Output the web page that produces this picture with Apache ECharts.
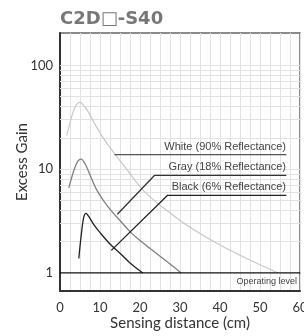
<!DOCTYPE html>
<html>
<head>
<meta charset="utf-8">
<script src="https://cdn.jsdelivr.net/npm/echarts@6/dist/echarts.min.js"></script>
<style>
  html, body { margin: 0; padding: 0; background: #fff; }
  #main { width: 304px; height: 336px; }
</style>
</head>
<body>
<div id="main"></div>
<script>
var myChart = echarts.init(document.getElementById('main'));

// Excess gain curves, [distance cm, gain]
var whiteCurve = [[1.7, 21], [2.7, 30], [3.8, 40], [5, 44], [6, 41], [7, 36], [9, 26], [11, 19.5],
    [13.7, 14], [16, 10.8], [20, 6.8], [22.5, 5.4], [25, 4.5], [30, 3.2], [35, 2.4], [40, 1.86],
    [45, 1.48], [50, 1.2], [54.5, 1.0]];
var grayCurve = [[2.2, 6.6], [3.5, 9.8], [4.5, 12], [5.3, 12.5], [6.3, 11.2], [7.5, 8.8], [9, 6.5],
    [11, 4.9], [13, 3.9], [15, 3.2], [17.5, 2.5], [20, 2.05], [22.5, 1.72], [25, 1.45], [27.5, 1.22], [30.3, 1.0]];
var blackCurve = [[4.7, 1.38], [5.3, 2.3], [5.9, 3.4], [6.5, 3.75], [7.2, 3.5], [8.5, 2.9], [10, 2.45],
    [12.5, 1.9], [15, 1.55], [17.5, 1.25], [20.7, 1.0]];

// leader lines for the legend texts
var whiteLeader = [[13.7, 13.8], [56.5, 13.8]];
var grayLeader = [[14.4, 3.7], [23.6, 8.7], [56.5, 8.7]];
var blackLeader = [[12.9, 1.66], [26.9, 5.6], [56.5, 5.6]];
var operatingLine = [[0, 1], [60, 1]];

var leaderNames = ['White (90% Reflectance)', 'Gray (18% Reflectance)', 'Black (6% Reflectance)'];
var minorGains = [2, 3, 4, 5, 6, 7, 8, 9, 10, 20, 30, 40, 50, 60, 70, 80, 90, 100];
var xTickLabels = [0, 10, 20, 30, 40, 50, 60];
var yTickLabels = [1, 10, 100];

var labelFont = 'Lato';

function leaderSeries(points, name, color) {
    var data = points.map(function (p, i) {
        if (i < points.length - 1) return { value: p };
        return {
            value: p,
            label: {
                show: true,
                position: 'top',
                align: 'right',
                distance: 2,
                formatter: name,
                color: '#444',
                fontSize: 11,
                fontFamily: 'Liberation Sans'
            }
        };
    });
    return {
        type: 'line',
        data: data,
        symbol: 'circle',
        symbolSize: 1,
        showSymbol: true,
        itemStyle: { color: color },
        lineStyle: { color: color, width: 1.3 },
        silent: true,
        z: 3
    };
}

function curveSeries(points, color, width) {
    return {
        type: 'line',
        data: points,
        symbol: 'none',
        smooth: 0.3,
        lineStyle: { color: color, width: width },
        silent: true,
        z: 2
    };
}

option = {
    animation: false,
    title: {
        text: 'C2D\u25A1-S40',
        left: 55,
        top: 5,
        textStyle: { fontSize: 18, fontWeight: 'bold', color: '#777', fontFamily: 'DejaVu Sans' }
    },
    grid: {
        left: 60, right: 4, top: 33, bottom: 45,
        outerBoundsMode: 'none',
        containLabel: false,
        show: true,
        borderColor: '#666',
        borderWidth: 1.5
    },
    xAxis: {
        type: 'value',
        min: 0,
        max: 60,
        interval: 2.5,
        name: 'Sensing distance (cm)',
        nameLocation: 'middle',
        nameGap: 25,
        nameMoveOverlap: false,
        nameTextStyle: { fontSize: 15, color: '#333', fontFamily: labelFont },
        axisLine: { lineStyle: { color: '#333', width: 2 } },
        axisTick: { show: false },
        axisLabel: {
            margin: 10,
            fontSize: 13,
            color: '#333',
            fontFamily: labelFont,
            hideOverlap: false,
            formatter: function (v) {
                return xTickLabels.indexOf(v) >= 0 ? String(v) : '';
            }
        },
        splitLine: { show: true, lineStyle: { color: '#e2e2e2', width: 1 } }
    },
    yAxis: {
        type: 'log',
        logBase: 10,
        min: 0.67,
        max: 205,
        name: 'Excess Gain',
        nameLocation: 'middle',
        nameGap: 30,
        nameMoveOverlap: false,
        nameRotate: 90,
        nameTextStyle: { fontSize: 15, color: '#333', fontFamily: labelFont },
        axisLine: { show: true, lineStyle: { color: '#333', width: 2 } },
        axisTick: { show: false },
        axisLabel: {
            margin: 7,
            fontSize: 13,
            color: '#333',
            fontFamily: labelFont,
            formatter: function (v) {
                for (var i = 0; i < yTickLabels.length; i++) {
                    if (Math.abs(v - yTickLabels[i]) < 1e-6 * yTickLabels[i]) return String(yTickLabels[i]);
                }
                return '';
            }
        },
        splitLine: { show: false }
    },
    series: [
        {
            type: 'line',
            data: operatingLine.map(function (p, i) {
                if (i === 0) return { value: p };
                return {
                    value: p,
                    label: {
                        show: true,
                        position: 'bottom',
                        align: 'right',
                        distance: 4,
                        offset: [-3, 0],
                        formatter: 'Operating level',
                        color: '#444',
                        fontSize: 9,
                        fontFamily: 'Liberation Sans'
                    }
                };
            }),
            symbol: 'circle',
            symbolSize: 1,
            itemStyle: { color: '#111' },
            lineStyle: { color: '#111', width: 1.3 },
            silent: true,
            z: 3,
            markLine: {
                silent: true,
                symbol: 'none',
                label: { show: false },
                lineStyle: { color: '#e2e2e2', width: 1, type: 'solid' },
                z: 1,
                data: minorGains.map(function (g) { return { yAxis: g }; })
            }
        },
        curveSeries(whiteCurve, '#c8c8c8', 1.2),
        curveSeries(grayCurve, '#808080', 1.3),
        curveSeries(blackCurve, '#222', 1.3),
        leaderSeries(whiteLeader, leaderNames[0], '#555'),
        leaderSeries(grayLeader, leaderNames[1], '#333'),
        leaderSeries(blackLeader, leaderNames[2], '#222')
    ]
};

option && myChart.setOption(option);
</script>
</body>
</html>
